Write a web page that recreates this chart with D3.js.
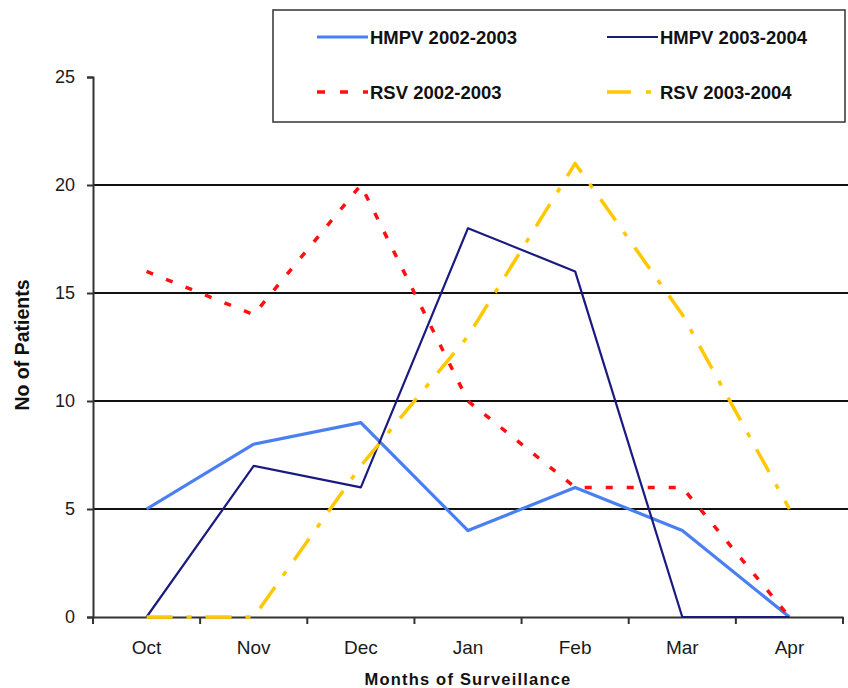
<!DOCTYPE html>
<html>
<head>
<meta charset="utf-8">
<script src="https://cdnjs.cloudflare.com/ajax/libs/d3/7.8.5/d3.min.js"></script>
<style>
  html, body { margin: 0; padding: 0; background: #fff; }
  svg { display: block; font-family: "Liberation Sans", Arial, sans-serif; }
</style>
</head>
<body>
<svg id="chart" width="848" height="688"></svg>
<script>
// Monthly patient counts per surveillance season
const months = ["Oct", "Nov", "Dec", "Jan", "Feb", "Mar", "Apr"];
const hmpv0203 = [5, 8, 9, 4, 6, 4, 0];
const hmpv0304 = [0, 7, 6, 18, 16, 0, 0];
const rsv0203 = [16, 14, 20, 10, 6, 6, 0];
const rsv0304 = [0, 0, 7, 13, 21, 14, 5];
const yTicks = [0, 5, 10, 15, 20, 25];

const series = [
  { name: "HMPV 2002-2003", values: hmpv0203, color: "#4a7ff2", width: 3.2, dash: null },
  { name: "HMPV 2003-2004", values: hmpv0304, color: "#1a1a80", width: 2.2, dash: null },
  { name: "RSV 2002-2003", values: rsv0203, color: "#ff1010", width: 3.5, dash: "7,14" },
  { name: "RSV 2003-2004", values: rsv0304, color: "#ffc800", width: 3.5, dash: "26,14,5,14" }
];

const svg = d3.select("#chart");
const plotLeft = 93, plotRight = 843, plotTop = 77, plotBottom = 617;

const x = d3.scaleBand().domain(months).range([plotLeft, plotRight]);
const y = d3.scaleLinear().domain([0, 25]).range([plotBottom, plotTop]);

// Horizontal gridlines
svg.append("g").selectAll("line")
  .data(yTicks.filter(d => d > 0 && d < 25))
  .join("line")
  .attr("x1", plotLeft).attr("x2", 848)
  .attr("y1", d => y(d)).attr("y2", d => y(d))
  .attr("stroke", "#111").attr("stroke-width", 2);

// Y axis
const yAxis = svg.append("g")
  .attr("transform", `translate(${plotLeft},0)`)
  .call(d3.axisLeft(y).tickValues(yTicks).tickSize(6).tickPadding(12));
yAxis.select(".domain").attr("stroke", "#333").attr("stroke-width", 2);
yAxis.selectAll(".tick line").attr("stroke", "#333").attr("stroke-width", 2);
yAxis.selectAll(".tick text").attr("font-size", 18).attr("fill", "#1a1a1a")
  .attr("font-family", "Liberation Sans, Arial, sans-serif");

// X axis with tick marks on category boundaries
const xAxis = svg.append("g")
  .attr("transform", `translate(0,${plotBottom})`)
  .call(d3.axisBottom(x).tickSize(0).tickPadding(24));
xAxis.select(".domain").attr("stroke", "#333").attr("stroke-width", 2);
xAxis.selectAll(".tick text").attr("font-size", 19).attr("fill", "#1a1a1a")
  .attr("font-family", "Liberation Sans, Arial, sans-serif");
xAxis.selectAll(".boundary")
  .data(d3.range(months.length + 1))
  .join("line")
  .attr("class", "boundary")
  .attr("x1", i => plotLeft + i * x.step()).attr("x2", i => plotLeft + i * x.step())
  .attr("y1", 0).attr("y2", 7)
  .attr("stroke", "#333").attr("stroke-width", 2);

// Series lines
const line = d3.line()
  .x((d, i) => x(months[i]) + x.bandwidth() / 2)
  .y(d => y(d));

svg.append("g").selectAll("path")
  .data(series)
  .join("path")
  .attr("d", s => line(s.values))
  .attr("fill", "none")
  .attr("stroke", s => s.color)
  .attr("stroke-width", s => s.width)
  .attr("stroke-dasharray", s => s.dash)
  .attr("stroke-linejoin", "round");

// Axis titles
svg.append("text")
  .attr("x", (plotLeft + plotRight) / 2).attr("y", 685)
  .attr("text-anchor", "middle")
  .attr("font-size", 16.5).attr("font-weight", "bold").attr("fill", "#111")
  .attr("letter-spacing", 1.2)
  .text("Months of Surveillance");

svg.append("text")
  .attr("transform", "translate(29,345) rotate(-90)")
  .attr("text-anchor", "middle")
  .attr("font-size", 19.5).attr("font-weight", "bold").attr("fill", "#111")
  .text("No of Patients");

// Legend
const legend = svg.append("g");
legend.append("rect")
  .attr("x", 273).attr("y", 10).attr("width", 572).attr("height", 112)
  .attr("fill", "#fff").attr("stroke", "#333").attr("stroke-width", 1.5);

const legendPos = [
  { lx: 317, ly: 37 },
  { lx: 607, ly: 37 },
  { lx: 317, ly: 92 },
  { lx: 607, ly: 92 }
];
series.forEach((s, i) => {
  const p = legendPos[i];
  legend.append("line")
    .attr("x1", p.lx).attr("x2", p.lx + 51)
    .attr("y1", p.ly).attr("y2", p.ly)
    .attr("stroke", s.color)
    .attr("stroke-width", s.width)
    .attr("stroke-dasharray", s.dash ? (i === 2 ? "8,15" : "24,15,5,15") : null);
  legend.append("text")
    .attr("x", p.lx + 53).attr("y", p.ly)
    .attr("dy", "0.36em")
    .attr("font-size", 18.5).attr("font-weight", "bold").attr("fill", "#111")
    .text(s.name);
});
</script>
</body>
</html>
